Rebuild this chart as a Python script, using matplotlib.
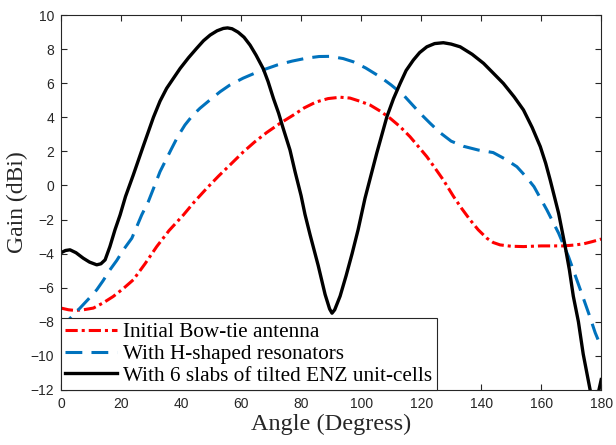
"""
Gain vs angle for the three antenna configurations
"""
import matplotlib
matplotlib.use('Agg')
import matplotlib.pyplot as plt

# Initial bow-tie antenna
ang_bowtie = [0, 2.5, 4.7, 7.5, 10.8, 14, 17.4, 20.8, 24.1, 28, 31.9, 36, 40.8, 44.5,
              48.6, 52.5, 56.3, 60.7, 64.5, 68.5, 73, 77.4, 81, 85, 89, 93, 96.3, 99.5,
              103, 106.5, 109.7, 113, 116.3, 119, 121.9, 124.5, 127.4, 130.8, 133.5,
              136.3, 139, 141.9, 144, 146.3, 150, 154.1, 160, 167.4, 171, 174.1, 177, 180]
gain_bowtie = [-7.2, -7.3, -7.34, -7.3, -7.2, -6.9, -6.52, -6.05, -5.54, -4.6, -3.59,
               -2.65, -1.73, -0.95, -0.16, 0.55, 1.2, 1.96, 2.55, 3.1, 3.65, 4.13, 4.55,
               4.9, 5.1, 5.18, 5.13, 4.95, 4.72, 4.35, 3.94, 3.45, 2.86, 2.3, 1.69, 1.05,
               0.32, -0.65, -1.35, -2.02, -2.6, -3.1, -3.35, -3.49, -3.57, -3.59, -3.55,
               -3.55, -3.5, -3.43, -3.3, -3.15]

# With H-shaped resonators
ang_h = [0, 2.5, 5.8, 9, 11.9, 14, 16.3, 18.6, 20.8, 23.6, 25.3, 26.9, 29.1, 31, 33,
         36.9, 39, 41.3, 43.8, 46.3, 49.5, 53, 56.3, 60.7, 66, 72, 77, 82, 86, 89.7, 94,
         97.4, 101.5, 106.3, 110, 114.1, 119.7, 123, 126.3, 130, 134.1, 139, 144, 148,
         151.9, 155, 157.6, 161.9, 165.8, 169.1, 173, 176, 178, 180]
gain_h = [-8.5, -7.9, -7.3, -6.7, -6.13, -5.6, -4.96, -4.4, -3.78, -3.1, -2.4, -1.73,
          -0.95, -0.1, 0.81, 2.18, 2.9, 3.55, 4.1, 4.53, 5.0, 5.5, 5.9, 6.3, 6.7, 7.07,
          7.3, 7.48, 7.57, 7.58, 7.45, 7.26, 6.9, 6.38, 5.9, 5.31, 4.23, 3.65, 3.1, 2.6,
          2.3, 2.08, 1.93, 1.55, 1.1, 0.5, -0.07, -1.44, -2.8, -4.18, -6.1, -7.6, -8.65,
          -9.5]

# With 6 slabs of tilted ENZ unit-cells
ang_enz = [0, 1.5, 3, 5, 7.4, 9.5, 11.9, 13.3, 14.7, 16.3, 18, 19.7, 21.5, 24.1, 27.4,
           30.8, 33, 35.2, 37.5, 39.7, 42.5, 45.2, 47.5, 49.7, 52, 54.1, 55.5, 57, 59,
           61, 63, 65, 67.4, 69, 70.8, 72.5, 74, 76.3, 78, 80, 81.3, 83, 85.7, 88, 89.5,
           90.3, 91.2, 93, 95, 97, 99, 101.3, 105.2, 108.6, 110.8, 113, 115, 117.4,
           119.5, 121.9, 124.5, 127.4, 130, 133, 137, 140.8, 144, 147.4, 151, 154.1,
           157, 159.7, 161.5, 163, 165.8, 168, 169.4, 170.7, 172.4, 174, 176.3, 177.5,
           179, 180]
gain_enz = [-3.95, -3.82, -3.78, -3.95, -4.27, -4.5, -4.66, -4.6, -4.37, -3.59, -2.6,
            -1.73, -0.65, 0.62, 2.3, 4.0, 4.95, 5.7, 6.3, 6.87, 7.5, 8.05, 8.5, 8.83,
            9.08, 9.22, 9.25, 9.2, 9.0, 8.7, 8.24, 7.65, 6.85, 6.1, 5.1, 4.25, 3.37, 2.08,
            0.8, -0.6, -1.7, -2.9, -4.7, -6.4, -7.25, -7.5, -7.3, -6.5, -5.3, -4.0, -2.6,
            -0.75, 1.89, 4.04, 5.1, 5.99, 6.75, 7.36, 7.8, 8.14, 8.33, 8.38, 8.3, 8.14,
            7.7, 7.17, 6.6, 5.99, 5.2, 4.43, 3.4, 2.28, 1.3, 0.32, -1.63, -3.59, -4.96,
            -6.5, -8.0, -9.9, -12.0, -12.6, -12.2, -11.4]

labels = ['Initial Bow-tie antenna',
          'With H-shaped resonators',
          'With 6 slabs of tilted ENZ unit-cells']

plt.rcParams['font.family'] = 'Liberation Sans'

fig = plt.figure(figsize=(6.16, 4.45), dpi=100)
ax = fig.add_axes([0.099, 0.124, 0.877, 0.842])

ax.plot(ang_bowtie, gain_bowtie, color='#FF0000', linewidth=2.2,
        linestyle=(0, (4, 1.3, 1, 1.3)), label=labels[0])
ax.plot(ang_h, gain_h, color='#0072BD', linewidth=2.2,
        linestyle=(0, (5.5, 3)), label=labels[1])
ax.plot(ang_enz, gain_enz, color='black', linewidth=2.4, label=labels[2])

ax.set_xlim(0, 180)
ax.set_ylim(-12, 10)
ax.set_xticks(range(0, 181, 20))
ax.set_yticks(range(-12, 11, 2))
ax.tick_params(direction='in', length=4, width=0.8, top=True, right=True,
               labelsize=10, colors='#262626', pad=5)
for sp in ax.spines.values():
    sp.set_linewidth(0.8)
    sp.set_color('#262626')

ax.set_xlabel('Angle (Degress)', fontfamily='Liberation Serif', fontsize=17.5,
              color='#262626', labelpad=2)
ax.set_ylabel('Gain (dBi)', fontfamily='Liberation Serif', fontsize=17,
              color='#262626', labelpad=2)

leg = ax.legend(loc='lower left', borderaxespad=0, fancybox=False,
                prop={'family': 'Liberation Serif', 'size': 15.3},
                handlelength=2.45, handletextpad=0.28, labelspacing=0.08,
                borderpad=0.2, framealpha=1)
leg.get_frame().set_edgecolor('#262626')
leg.get_frame().set_linewidth(0.8)

plt.savefig('out.png', dpi=100)
plt.close()
